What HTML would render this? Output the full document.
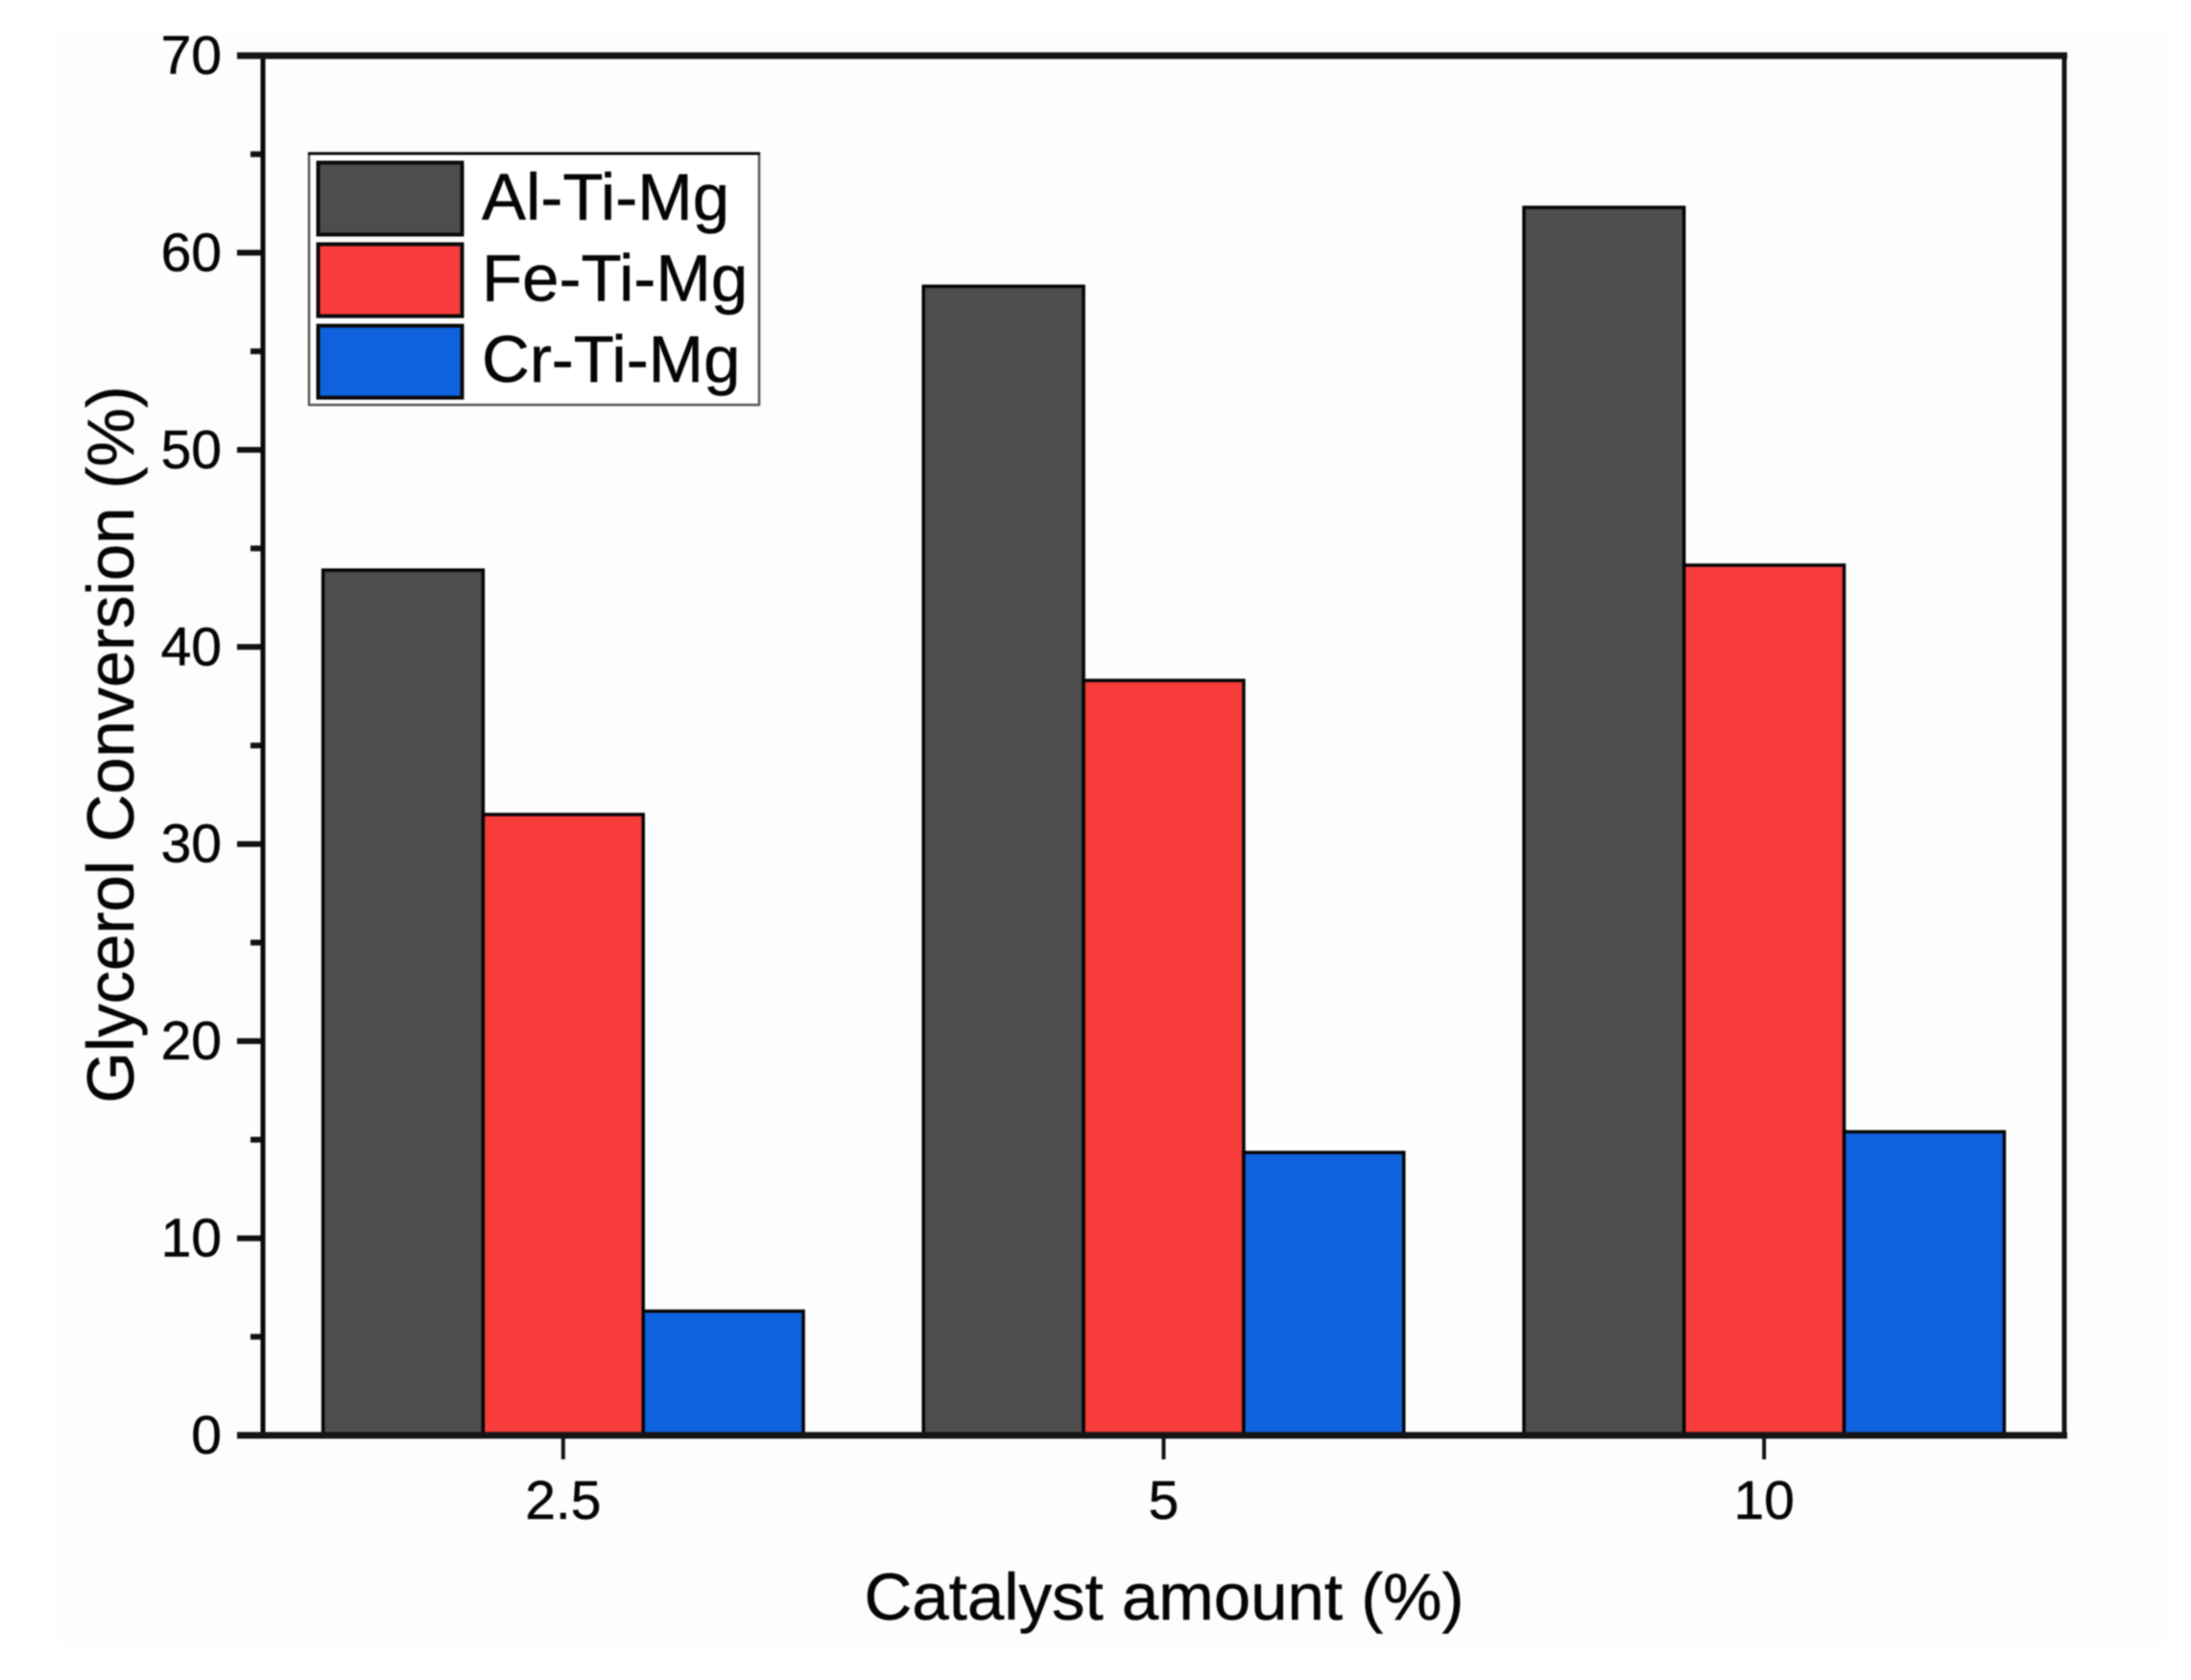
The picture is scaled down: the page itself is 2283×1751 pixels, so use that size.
<!DOCTYPE html>
<html lang="en">
<head>
<meta charset="utf-8">
<title>Glycerol Conversion vs Catalyst Amount</title>
<style>
  html, body { margin: 0; padding: 0; background: #ffffff; }
  body { width: 2283px; height: 1751px; overflow: hidden; }
  svg { display: block; filter: blur(0.7px); }
  text { font-family: "Liberation Sans", sans-serif; fill: #050505; stroke: #050505; stroke-width: 0.5px; }
</style>
</head>
<body>
<svg id="chart" xmlns="http://www.w3.org/2000/svg" width="2283" height="1751" viewBox="0 0 2283 1751">
  <rect x="0" y="0" width="2283" height="1751" fill="#ffffff"/>
  <rect x="60" y="35" width="2197" height="1679" fill="#fefdfe"/>
  <text x="1213" y="1688" font-size="69" text-anchor="middle">Catalyst amount (%)</text>
  <text x="0" y="0" font-size="69" text-anchor="middle" transform="translate(139 776) rotate(-90)">Glycerol Conversion (%)</text>
</svg>
<script>
const categories = ['2.5', '5', '10'];
const seriesNames = ['Al-Ti-Mg', 'Fe-Ti-Mg', 'Cr-Ti-Mg'];
const alTiMg = [43.9, 58.3, 62.3];
const feTiMg = [31.5, 38.3, 44.15];
const crTiMg = [6.3, 14.35, 15.4];
const yTickLabels = [0, 10, 20, 30, 40, 50, 60, 70];
const yMinorTicks = [5, 15, 25, 35, 45, 55, 65];

const seriesValues = [alTiMg, feTiMg, crTiMg];
const seriesColors = ['#4d4d4d', '#f83c3c', '#0f62de'];
const plot = { left: 274, right: 2151, top: 58, bottom: 1496 };
const yMax = 70;
const svg = document.getElementById('chart');
const NS = 'http://www.w3.org/2000/svg';

function mk(tag, attrs, parent) {
  const el = document.createElementNS(NS, tag);
  for (const k in attrs) el.setAttribute(k, attrs[k]);
  (parent || svg).appendChild(el);
  return el;
}
function yScale(v) {
  return plot.bottom - (v / yMax) * (plot.bottom - plot.top);
}
function bandWidth() {
  return (plot.right - plot.left) / categories.length;
}
function xCenter(i) {
  return plot.left + bandWidth() * (i + 0.5);
}
function barWidth() {
  return bandWidth() * 0.8 / seriesValues.length;
}
function barLeft(catIndex, seriesIndex) {
  return xCenter(catIndex) - barWidth() * seriesValues.length / 2 + barWidth() * seriesIndex;
}

// Plot area fill
const plotBg = mk('rect', { x: plot.left, y: plot.top, width: plot.right - plot.left, height: plot.bottom - plot.top, fill: '#fffeff' });



// Bars
seriesValues.forEach(function (values, s) {
  values.forEach(function (v, c) {
    const y = yScale(v);
    const bar = mk('rect', {
      x: barLeft(c, s), y: y, width: barWidth(), height: plot.bottom - y,
      fill: seriesColors[s], stroke: '#050505', 'stroke-width': 3.5
    });
    
    
  });
});

// Y ticks and labels
yTickLabels.forEach(function (t) {
  const y = yScale(t);
  const tick = mk('line', { x1: 247, x2: plot.left, y1: y, y2: y, stroke: '#111', 'stroke-width': 6 });
  
  
  const label = mk('text', { x: 231, y: y + 19, 'font-size': 57, 'text-anchor': 'end' });
  label.textContent = String(t);
  
  
});
yMinorTicks.forEach(function (t) {
  const y = yScale(t);
  const tick = mk('line', { x1: 261, x2: plot.left, y1: y, y2: y, stroke: '#111', 'stroke-width': 6 });
  
  
});

// X ticks and labels
categories.forEach(function (cat, i) {
  const x = xCenter(i);
  const tick = mk('line', { x1: x, x2: x, y1: plot.bottom, y2: 1521, stroke: '#111', 'stroke-width': 4 });
  
  
  const label = mk('text', { x: x, y: 1583, 'font-size': 57, 'text-anchor': 'middle' });
  label.textContent = cat;
  
  
});

// Axis frame
const axisLeft = mk('line', { x1: plot.left, x2: plot.left, y1: plot.top, y2: plot.bottom, stroke: '#0a0a0a', 'stroke-width': 5 });


const axisRight = mk('line', { x1: plot.right, x2: plot.right, y1: plot.top, y2: plot.bottom, stroke: '#151515', 'stroke-width': 5 });


const axisTop = mk('line', { x1: 247, x2: plot.right + 3, y1: plot.top, y2: plot.top, stroke: '#151515', 'stroke-width': 7 });


const axisBottom = mk('line', { x1: 247, x2: plot.right + 3, y1: plot.bottom, y2: plot.bottom, stroke: '#151515', 'stroke-width': 7 });



// Legend
const legend = mk('g', {});


const legendBox = mk('rect', { x: 322, y: 160, width: 469, height: 262, fill: '#ffffff', stroke: '#555', 'stroke-width': 2.5 }, legend);


const legendTop = mk('line', { x1: 321, x2: 792, y1: 160, y2: 160, stroke: '#0a0a0a', 'stroke-width': 3 }, legend);


seriesNames.forEach(function (name, i) {
  const swatch = mk('rect', { x: 331.5, y: 169.5 + i * 85, width: 150, height: 75, fill: seriesColors[i], stroke: '#0a0a0a', 'stroke-width': 4 }, legend);
  
  
  const label = mk('text', { x: 502, y: 229 + i * 84.5, 'font-size': 69 }, legend);
  label.textContent = name;
  
  
});
</script>
</body>
</html>
